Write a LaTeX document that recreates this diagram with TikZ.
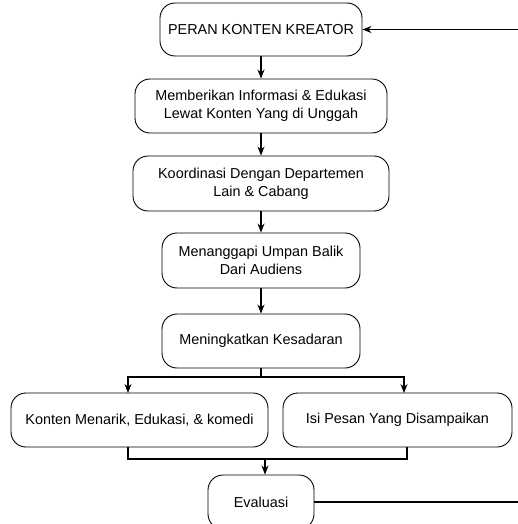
\documentclass[tikz,border=0pt]{standalone}
\usepackage{fontspec}
\setmainfont{Liberation Sans}
\usetikzlibrary{arrows.meta}
\begin{document}
\begin{tikzpicture}[x=1pt,y=-1pt,
  box/.style={draw, line width=0.9pt, rounded corners=15pt, align=center,
    inner sep=0pt, font=\fontsize{14.4pt}{18pt}\selectfont},
  conn/.style={line width=1.2pt, -{Stealth[length=9pt,width=7pt]}},
  plain/.style={line width=1.2pt}]
\useasboundingbox (0,0) rectangle (518,524);
\clip (0,0) rectangle (518,524);
\node[box, minimum width=202pt, minimum height=53pt] (peran) at (261,29.5) {PERAN KONTEN KREATOR};
\node[box, minimum width=252pt, minimum height=54pt] (beri) at (261,106) {Memberikan Informasi \& Edukasi\\Lewat Konten Yang di Unggah};
\node[box, minimum width=256pt, minimum height=55pt] (koor) at (261,183.5) {Koordinasi Dengan Departemen\\Lain \& Cabang};
\node[box, minimum width=198pt, minimum height=55pt] (tang) at (261,260.5) {Menanggapi Umpan Balik\\Dari Audiens};
\node[box, minimum width=198pt, minimum height=54pt] (sadar) at (261,341) {Meningkatkan Kesadaran};
\node[box, minimum width=257pt, minimum height=54pt] (konten) at (139.5,420) {Konten Menarik, Edukasi, \& komedi};
\node[box, minimum width=229pt, minimum height=54pt] (isi) at (397.5,420) {Isi Pesan Yang Disampaikan};
\node[box, minimum width=106pt, minimum height=54pt] (eval) at (261,502) {Evaluasi};
\coordinate (rtop) at (518,29.5);
\coordinate (rbot) at (518,502);
\coordinate (split) at (261,377);
\coordinate (merge) at (265,459);
\coordinate (kin) at (128,393);
\coordinate (iin) at (404,393);
\coordinate (kout) at (128,447);
\coordinate (iout) at (407,447);
\draw[conn] (peran) -- (beri);
\draw[conn] (beri) -- (koor);
\draw[conn] (koor) -- (tang);
\draw[conn] (tang) -- (sadar);
\draw[plain] (sadar.south) -- (split);
\draw[conn] (split) -| (kin);
\draw[conn] (split) -| (iin);
\draw[plain] (kout) |- (merge) -| (iout);
\draw[conn] (merge) -- (eval.north -| merge);
\draw[plain] (eval) -- (rbot);
\draw[conn] (rtop) -- (peran);
\end{tikzpicture}
\end{document}
